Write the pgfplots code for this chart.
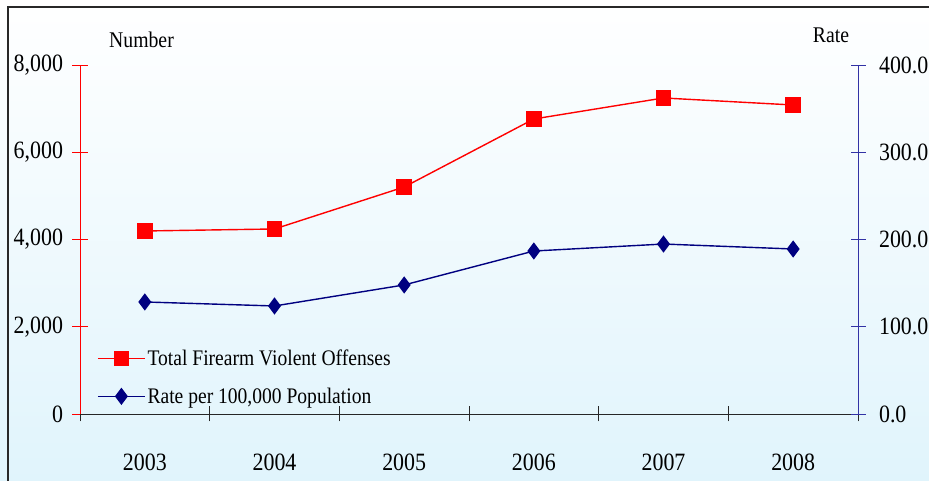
\documentclass[border=0pt]{standalone}
\usepackage{pgfplots}
\pgfplotsset{compat=1.18}
\usepackage{fontspec}
\setmainfont{Liberation Serif}[FakeStretch=0.88]
\definecolor{bgblue}{RGB}{224,244,252}
\definecolor{navyc}{RGB}{0,0,128}
\definecolor{axnavy}{RGB}{50,50,165}
\definecolor{framec}{RGB}{40,40,40}
\begin{document}
\begin{tikzpicture}[x=1bp,y=1bp]
\useasboundingbox (0,0) rectangle (929,481);
\clip (0,0) rectangle (929,481);
\shade[top color=white, bottom color=bgblue] (0,0) rectangle (929,481);
\draw[framec, line width=1.5bp] (8,0) -- (8,474) -- (935,474);
\begin{axis}[
  at={(80bp,67bp)}, anchor=south west, scale only axis,
  width=778bp, height=349bp,
  xmin=0.5, xmax=6.5, ymin=0, ymax=8000,
  axis x line*=bottom, axis y line*=left,
  x axis line style={-, black!85, line width=0.8bp},
  y axis line style={-, red, line width=0.8bp},
  xtick={1,2,3,4,5,6},
  xticklabels={2003,2004,2005,2006,2007,2008},
  major x tick style={draw=none},
  minor xtick={0.5,1.5,2.5,3.5,4.5,5.5,6.5},
  minor tick length=15bp,
  minor x tick style={black!85, line width=0.8bp},
  ytick={0,2000,4000,6000,8000},
  major tick length=15bp,
  y tick style={red, line width=0.8bp},
  tick align=center,
  tick label style={font=\fontsize{25}{25}\selectfont},
  yticklabel style={xshift=-6bp, /pgf/number format/.cd, 1000 sep={,}, assume math mode=true},
  xticklabel style={yshift=-29bp},
  scaled y ticks=false,
  clip=false,
]
\addplot[red, line width=1.4bp, mark=square*, mark size=7bp, mark options={solid, fill=red, draw=red}]
  coordinates {(1,4195) (2,4241) (3,5203) (4,6762) (5,7244) (6,7083)};
\end{axis}
\begin{axis}[
  at={(80bp,67bp)}, anchor=south west, scale only axis,
  width=778bp, height=349bp,
  xmin=0.5, xmax=6.5, ymin=0, ymax=400,
  axis y line*=right, axis x line=none,
  y axis line style={-, axnavy, line width=0.8bp},
  ytick={0,100,200,300,400},
  major tick length=15bp,
  y tick style={axnavy, line width=0.8bp},
  tick align=center,
  tick label style={font=\fontsize{25}{25}\selectfont},
  yticklabel style={xshift=10bp, /pgf/number format/.cd, fixed, fixed zerofill, precision=1, assume math mode=true},
  clip=false,
  legend style={at={(0,0)}, anchor=south west, xshift=17bp, yshift=7bp,
    draw=none, fill=none, inner sep=0pt, row sep=17bp,
    font=\fontsize{22.3}{22.3}\selectfont, cells={anchor=west}},
  legend image code/.code={\draw[mark repeat=2,mark phase=2] plot coordinates {(0bp,0bp)(23.5bp,0bp)(47bp,0bp)};},
]
\addlegendimage{red, line width=1.4bp, mark=square*, mark size=7bp, mark options={solid, fill=red, draw=red}}
\addlegendentry{Total Firearm Violent Offenses}
\addplot[navyc, line width=1.4bp, mark=diamond*, mark size=7.5bp, mark options={solid, fill=navyc, draw=navyc}]
  coordinates {(1,128.4) (2,123.8) (3,147.9) (4,186.8) (5,194.8) (6,189.1)};
\addlegendentry{Rate per 100,000 Population}
\end{axis}
\node[font=\fontsize{22.5}{22.5}\selectfont] at (141.5,441) {Number};
\node[font=\fontsize{22.5}{22.5}\selectfont] at (831,446) {Rate};
\end{tikzpicture}
\end{document}
